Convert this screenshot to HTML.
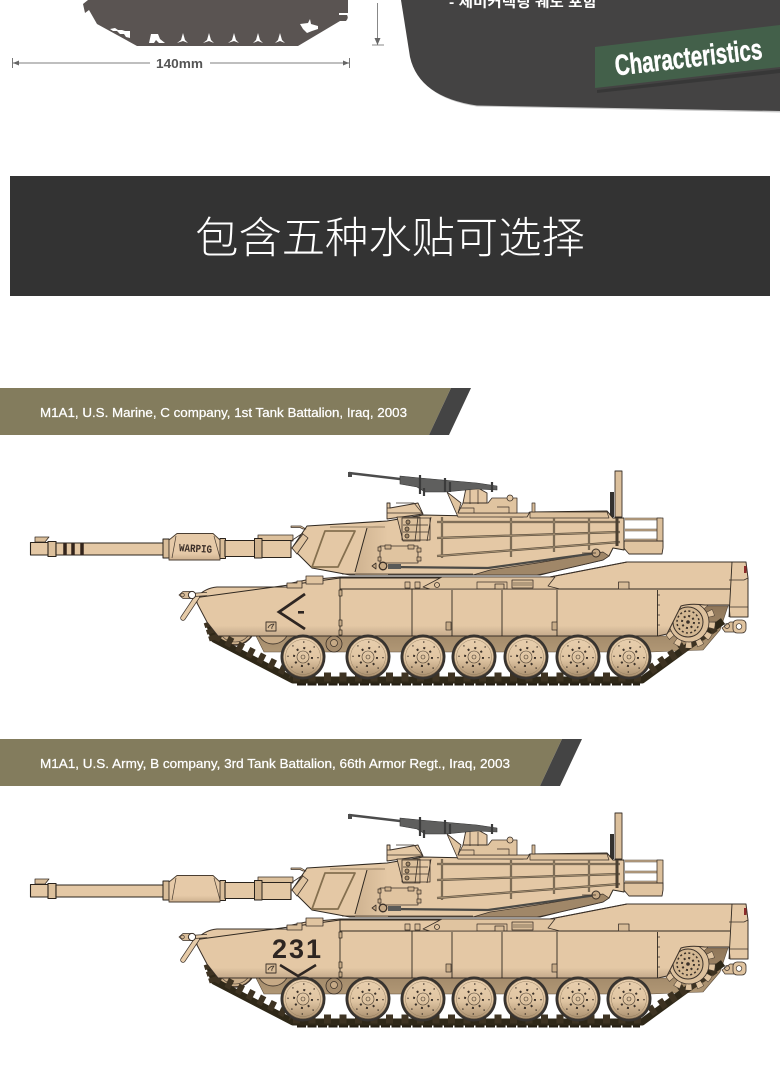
<!DOCTYPE html>
<html><head><meta charset="utf-8"><style>
html,body{margin:0;padding:0;background:#fff}
svg{display:block}
text{font-family:"Liberation Sans","Noto Sans CJK KR",sans-serif}
</style></head><body>
<svg xmlns="http://www.w3.org/2000/svg" width="780" height="1077" viewBox="0 0 780 1077">
<defs>
<linearGradient id="hull" x1="0" y1="0" x2="0" y2="1"><stop offset="0" stop-color="#e4c8a5"/><stop offset=".86" stop-color="#e4c8a5"/><stop offset="1" stop-color="#c4a98b"/></linearGradient>
<linearGradient id="brown" x1="0" y1="0" x2="0" y2="1"><stop offset="0" stop-color="#8f7659"/><stop offset="1" stop-color="#b09775"/></linearGradient>
<linearGradient id="wh" x1="0" y1="0" x2="0" y2="1"><stop offset="0" stop-color="#e8cfae"/><stop offset=".55" stop-color="#e0c5a2"/><stop offset="1" stop-color="#a98f6e"/></linearGradient>
<linearGradient id="shroud" x1="0" y1="0" x2="0" y2="1"><stop offset="0" stop-color="#e6caa8"/><stop offset=".75" stop-color="#e6caa8"/><stop offset="1" stop-color="#cdb08e"/></linearGradient>
<linearGradient id="tur" x1="0" y1="0" x2="1" y2="0"><stop offset="0" stop-color="#c9ad8b"/><stop offset="1" stop-color="#e4c8a5"/></linearGradient>

<g id="wheel">
  <circle r="22.5" fill="#37332f"/>
  <circle r="19.8" fill="url(#wh)" stroke="#5b4c3b" stroke-width=".6"/>
  <circle r="17.5" fill="none" stroke="#8a7558" stroke-width=".4"/>
  <circle r="15" fill="none" stroke="#3a3028" stroke-width="1.3" stroke-dasharray="1.3 10.48"/>
  <circle r="9" fill="none" stroke="#3a3028" stroke-width="2" stroke-dasharray="2 5.07"/>
  <circle r="6" fill="none" stroke="#4b3e30" stroke-width=".6"/>
  <circle r="2" fill="none" stroke="#4b3e30" stroke-width=".6"/>
</g>

<g id="tank" stroke-linejoin="round">
  <!-- gun -->
  <path d="M35 537h14l-4 5h-10z" fill="#d9bd99" stroke="#3a3028" stroke-width=".8"/>
  <rect x="30.5" y="542.5" width="18" height="12.5" fill="#e4c8a5" stroke="#2a231c" stroke-width="1.1"/>
  <rect x="48" y="541.5" width="8" height="15" fill="#dcc09c" stroke="#2a231c" stroke-width="1.1"/>
  <rect x="56" y="543" width="108" height="12" fill="#e4c8a5" stroke="#2a231c" stroke-width="1.1"/>
  <rect x="163" y="539" width="6" height="19" fill="#d9bd99" stroke="#2a231c" stroke-width="1"/>
  <rect x="220" y="538.5" width="5.5" height="20" fill="#d9bd99" stroke="#2a231c" stroke-width="1"/>
  <rect x="225" y="540.5" width="30" height="16" fill="#e4c8a5" stroke="#2a231c" stroke-width="1.1"/>
  <rect x="258" y="535" width="35" height="6" fill="#dcc09c" stroke="#3a3028" stroke-width=".8"/>
  <rect x="261" y="540.5" width="30" height="17" fill="#e4c8a5" stroke="#2a231c" stroke-width="1.1"/>
  <rect x="254.5" y="538.5" width="7.5" height="19.5" fill="#cfb28e" stroke="#2a231c" stroke-width="1"/>
  <path d="M169 540l8-6.500h36l7 6.500v20h-51z" fill="url(#shroud)" stroke="#4a3e32" stroke-width=".9"/>
  <path d="M176 536l-4 22M214 536l6 22" stroke="#4a3e32" stroke-width=".7" fill="none"/>

  <!-- lower brown -->
  <path d="M657 636H666L681 606H728L720 630L703 650L650 652H264L256 636Z" fill="url(#brown)" stroke="#5f4f3c" stroke-width=".6"/>
  <circle cx="273" cy="628" r="16" fill="#c7aa86" stroke="#4a3e32" stroke-width=".9"/>
  <circle cx="235" cy="625" r="20" fill="#c9ad89" stroke="#3a3028" stroke-width="1.5"/>
  <circle cx="235" cy="625" r="17" fill="none" stroke="#4a3e32" stroke-width=".6"/>
  <circle cx="334" cy="644" r="8" fill="#a78d6d" stroke="#3a3028" stroke-width=".8"/>
  <circle cx="334" cy="643" r="3.500" fill="#c7aa86" stroke="#3a3028" stroke-width=".7"/>

  <!-- track -->
  <g fill="none">
    <path d="M209 622L214 639L293 680H642L723 621" stroke="#2f2818" stroke-width="7"/>
    <path d="M293 677H642" stroke="#3e3322" stroke-width="9" stroke-dasharray="7 8.500"/>
    <path d="M297 684.500H640" stroke="#231d12" stroke-width="2" stroke-dasharray="9 1.500"/>
    <path d="M216 635L292 674" stroke="#3e3322" stroke-width="10" stroke-dasharray="6 6"/>
    <path d="M650 670L716 626" stroke="#3e3322" stroke-width="10" stroke-dasharray="6 6"/>
    <path d="M208 622L214 640" stroke="#3e3322" stroke-width="9" stroke-dasharray="5 2"/>
  </g>

  <!-- sprocket -->
  <circle cx="689" cy="622" r="23" fill="none" stroke="#4a3e32" stroke-width="7" stroke-dasharray="6.500 4.540"/>
  <circle cx="689" cy="622" r="23" fill="none" stroke="#e0c4a0" stroke-width="6" stroke-dasharray="5.500 5.540" stroke-dashoffset="-.5"/>
  <circle cx="689" cy="622" r="20" fill="#dcc09c" stroke="#3a3028" stroke-width=".8"/>
  <circle cx="688" cy="622" r="15" fill="#d3b792" stroke="#3a3028" stroke-width="1"/>
  <circle cx="688" cy="622" r="11" fill="none" stroke="#3a3028" stroke-width="1.500" stroke-dasharray="2 2.320"/>
  <circle cx="688" cy="622" r="6" fill="none" stroke="#3a3028" stroke-width="2" stroke-dasharray="2 2.710"/>
  <circle cx="688" cy="622" r="1.800" fill="#3a3028"/>

  <!-- hull -->
  <path d="M197 597Q205 588 217 587H287V584L306 580L340 577L550 577L627 562H746L748 578V617H730L729 605H705Q690 603 681 606L667 634L658 636H218L207 622L197 603Z" fill="url(#hull)" stroke="#3a3028" stroke-width="1"/>
  <path d="M197 597.500L340 578H550" fill="none" stroke="#2f2820" stroke-width="1"/>
  <path d="M340 589H730M340 578V636M412 589V636M452 590V636M502 590V636M557 590V636M657.500 590V636M732 562L729 617" fill="none" stroke="#2f2820" stroke-width=".9"/>
  <path d="M550 577L627 562" fill="none" stroke="#3a3028" stroke-width="1"/>
  <path d="M729 580H744L748 578M730 607H748" stroke="#3a3028" stroke-width=".7" fill="none"/>
  <path d="M657 595h3M657 605h3M657 615h3M657 625h3" stroke="#3a3028" stroke-width=".7"/>
  <rect x="744" y="566" width="2.500" height="7" fill="#8c2a2a"/>
  <rect x="446" y="622" width="5" height="8" fill="#c9ad89" stroke="#3a3028" stroke-width=".7"/>
  <rect x="552" y="622" width="5" height="8" fill="#c9ad89" stroke="#3a3028" stroke-width=".7"/>
  <path d="M339 590h3v6h-3zM339 620h3v6h-3zM339 630h3v5h-3z" fill="#c9ad89" stroke="#2f2820" stroke-width=".7"/>

  <!-- deck detail -->
  <path d="M423 587L442 577H555L548 586L560 589H430Z" fill="#e0c4a0" stroke="#3a3028" stroke-width=".8"/>
  <rect x="512" y="580" width="21" height="8" fill="#d9bd99" stroke="#3a3028" stroke-width=".8"/>
  <path d="M513 583h19M513 585h19" stroke="#3a3028" stroke-width=".6"/>
  <rect x="477" y="582" width="30" height="7" fill="none" stroke="#3a3028" stroke-width=".7"/>
  <rect x="495" y="584" width="9" height="5" fill="#d9bd99" stroke="#3a3028" stroke-width=".8"/>
  <circle cx="437" cy="585" r="2.500" fill="none" stroke="#3a3028" stroke-width=".8"/>
  <rect x="618.500" y="582" width="10.500" height="7" fill="#d9bd99" stroke="#3a3028" stroke-width=".8"/>
  <path d="M405 582h5v6h-5zM415 582h5v6h-5z" fill="#d9bd99" stroke="#3a3028" stroke-width=".7"/>
  <path d="M287 583h10v-2h5v7H287z" fill="#d9bd99" stroke="#3a3028" stroke-width=".8"/>
  <rect x="306" y="576" width="17" height="8" fill="#e0c4a0" stroke="#3a3028" stroke-width=".8"/>

  <!-- front tow -->
  <path d="M183 618L197 597" stroke="#3a3028" stroke-width="5.500" fill="none" stroke-linecap="round"/>
  <path d="M183 618L197 597" stroke="#e6cba8" stroke-width="4" fill="none" stroke-linecap="round"/>
  <path d="M192 595L207 594" stroke="#3a3028" stroke-width="4" fill="none"/>
  <path d="M192 595L207 594" stroke="#e6cba8" stroke-width="2.600" fill="none"/>
  <path d="M179 595l4-3.500h8l2 3.500-2 3.500h-8z" fill="#d9bd99" stroke="#3a3028" stroke-width=".8"/>
  <circle cx="182.500" cy="595" r="1.800" fill="none" stroke="#3a3028" stroke-width=".7"/>
  <circle cx="192" cy="595" r="3.600" fill="#fff" stroke="#3a3028" stroke-width="1"/>

  <!-- rear tow -->
  <path d="M722 628L730 622H735V632H725Z" fill="#d9bd99" stroke="#3a3028" stroke-width=".7"/>
  <circle cx="727" cy="626" r="2.500" fill="none" stroke="#3a3028" stroke-width=".7"/>
  <rect x="733" y="620" width="13" height="13" rx="4" fill="#e0c4a0" stroke="#3a3028" stroke-width=".8"/>
  <circle cx="739" cy="626.500" r="2.800" fill="#fff" stroke="#3a3028" stroke-width=".7"/>

  <!-- bustle rack -->
  <path d="M625 519H661M625 530H660M625 540H660" stroke="#5e5140" stroke-width="2.500" fill="none"/>
  <path d="M625 519H661M625 530H660M625 540H660" stroke="#d9bd99" stroke-width="1.200" fill="none"/>
  <rect x="657" y="518" width="6" height="29" fill="#dcc09c" stroke="#3a3028" stroke-width=".8"/>
  <path d="M624 541H663V548L662 554H629L622 546Z" fill="#e0c4a0" stroke="#3a3028" stroke-width=".9"/>

  <!-- turret -->
  <path d="M615 471h7V517h-7z" fill="#dcc09c" stroke="#3a3028" stroke-width=".9"/>
  <rect x="610" y="492" width="4" height="25" fill="#35322f"/>
  <path d="M292 548L307 526L387 521L423 515L523 517L530 512L607 511L613 518L624 518V550L613 548L609 556L603 560L560 570L540 575H473L390 575L350 575L312 568Z" fill="#e4c8a5" stroke="#2f2820" stroke-width="1"/>
  <path d="M367 528L388 522V575H355Z" fill="url(#tur)" opacity=".8"/>
  <path d="M473 575L490 570L537 563L603 552L609 556L603 560L547 573L537 575Z" fill="#a08768" stroke="#3a3028" stroke-width=".7"/>
  <path d="M342 574H473" stroke="#3a3028" stroke-width=".8"/>
  <path d="M292 548L303 534l5 4L297 554Z" fill="#e0c4a0" stroke="#3a3028" stroke-width=".8"/>
  <path d="M291 546V541L303 533" fill="none" stroke="#3a3028" stroke-width=".8"/>
  <path d="M291 526h10l5 3h-3l-3-1.500h-9z" fill="#e0c4a0" stroke="#3a3028" stroke-width=".7"/>
  <path d="M325 531H355L338 567H312Z" fill="#e4c8a5" stroke="#85704f" stroke-width="1.800"/>
  <path d="M367 528L355 572" stroke="#2f2820" stroke-width="1" fill="none"/>
  <path d="M330 527H385" stroke="#7b674f" stroke-width=".7"/>
  <!-- top hatch -->
  <path d="M387 519V503H390V508L418 503L423 514Z" fill="#e4c8a5" stroke="#3a3028" stroke-width=".9"/>
  <path d="M387 508h3M396 503h18l9 11M387 513h36" fill="none" stroke="#3a3028" stroke-width=".7"/>
  <!-- top right detail -->
  <path d="M530 513V512H607L609 518H530Z" fill="#dcc09c" stroke="#3a3028" stroke-width=".7"/>
  <rect x="532" y="503" width="3" height="9" fill="#d9bd99" stroke="#3a3028" stroke-width=".7"/>
  <!-- stowage -->
  <path d="M397 517H420V541H403Z" fill="#dcc09c" stroke="#3a3028" stroke-width=".8"/>
  <path d="M402 518H430V540H402ZM418 517l-3 24M431 517l-4 24M403 525H428M403 532H428" fill="none" stroke="#3a3028" stroke-width=".8"/>
  <circle cx="408" cy="522" r="2" fill="#a38a6a" stroke="#3a3028" stroke-width=".8"/><circle cx="407" cy="529" r="2" fill="#a38a6a" stroke="#3a3028" stroke-width=".8"/><circle cx="407" cy="536" r="2" fill="#a38a6a" stroke="#3a3028" stroke-width=".8"/>
  <rect x="380" y="546" width="38" height="17" fill="#e0c4a0" stroke="#3a3028" stroke-width=".8"/>
  <path d="M378 547h3v4h-3zM378 557h3v4h-3zM417 548h4v4h-4zM417 557h4v4h-4zM385 545h6v4h-6zM408 545h6v4h-6z" fill="#cfb28e" stroke="#3a3028" stroke-width=".7"/>
  <!-- rails -->
  <g fill="none" stroke="#5e5140" stroke-width="2.200">
    <path d="M437 522L620 522M437 538L620 532M437 556L620 542"/>
    <path d="M442 517V558M511 518V557M554 518V552M589 518V550"/>
  </g>
  <g fill="none" stroke="#b7a07f" stroke-width=".7">
    <path d="M437 522L620 522M437 538L620 532M437 556L620 542"/>
    <path d="M442 517V558M511 518V557M554 518V552M589 518V550"/>
  </g>
  <path d="M617 518V546" stroke-width="3" stroke="#4b4032" fill="none"/>
  <path d="M390 567L488 568L560 558L597 553" stroke="#4b4a46" stroke-width="2.200" fill="none"/>
  <circle cx="596" cy="553" r="4" fill="#c7aa86" stroke="#3a3028" stroke-width="1"/>
  <circle cx="383" cy="566" r="3.800" fill="#c7aa86" stroke="#3a3028" stroke-width="1.300"/>
  <path d="M372 566l4-3v6zM582 553h14" fill="#c7aa86" stroke="#3a3028" stroke-width=".8"/>
  <rect x="388" y="564" width="13" height="5" fill="#5a5a58"/>

  <!-- cupola + MG -->
  <path d="M447 492L461 503L458 513H530V512L527 517H458Z" fill="#e0c4a0" stroke="#3a3028" stroke-width=".8"/>
  <path d="M458 513L463 503H488L492 498H517V513Z" fill="#e0c4a0" stroke="#3a3028" stroke-width=".8"/>
  <path d="M463 503L466 488H478L487 493V503Z" fill="#e4c8a5" stroke="#3a3028" stroke-width=".9"/>
  <circle cx="510" cy="498" r="3" fill="#e4c8a5" stroke="#3a3028" stroke-width=".8"/>
  <path d="M470 488v16M478 490v14M460 508h14v5M497 507h12v6" fill="none" stroke="#3a3028" stroke-width=".7"/>
  <path d="M349 473L400 479" stroke="#4c4c4c" stroke-width="2.500" fill="none"/>
  <rect x="348" y="472" width="4" height="5" fill="#4c4c4c"/>
  <path d="M400 476L420 478L477 483L497 486V490L477 489L445 492H425L417 487L400 484Z" fill="#5f5f5e" stroke="#333" stroke-width=".6"/>
  <path d="M420 475V494M424 488v8M445 478v14M450 482v10M492 482v10" stroke="#3b3b3b" stroke-width="2.200" fill="none"/>

  <!-- wheels -->
  <use href="#wheel" x="303" y="657"/>
  <use href="#wheel" x="368" y="657"/>
  <use href="#wheel" x="423" y="657"/>
  <use href="#wheel" x="474" y="657"/>
  <use href="#wheel" x="526" y="657"/>
  <use href="#wheel" x="578" y="657"/>
  <use href="#wheel" x="629" y="657"/>
  <path d="M266 622h10v9h-10z" fill="#d9bd99" stroke="#3a3028" stroke-width=".9"/>
  <path d="M268 628c1-3 4-4 6-4-1 2-3 3-2 5" fill="none" stroke="#3a3028" stroke-width=".8"/>
</g>
</defs>

<rect width="780" height="1077" fill="#fff"/>

<!-- top silhouette -->
<path d="M88 0L83 4L85 13L89 10L97 24L137 46H298L340 21H346Q349 18 347 15H339V13H348V0Z" fill="#5a5452"/>
<g fill="#fff">
  <path d="M110 29l5-1 3 2 4 0 3 1 5 0v7l-4-1-2-3h-4l-3-3h-4z"/>
  <path d="M149 43l2-9h7l2 5 5 4h-6l-3-3-2 3z"/>
  <path d="M177 43l4-3 2-7 2 7 3 3-5-2z"/>
  <path d="M203 43l4-3 2-7 2 7 3 3-5-2z"/>
  <path d="M228 43l4-3 2-7 2 7 3 3-5-2z"/>
  <path d="M253 43l3-3 2-7 2 7 3 3-5-2z"/>
  <path d="M275 43l3-3 2-7 2 7 3 3-5-2z"/>
  <path d="M300 24l8-1 2-4 1 5 7 2 0 3-6 2-5 2-4-4z"/>
</g>
<path d="M12 63H150M210 63H349" stroke="#999" stroke-width="1.200"/>
<path d="M12.500 58v10M349.500 58v10" stroke="#777" stroke-width="1"/>
<path d="M13 63l6-2.500v5zM349 63l-6-2.500v5z" fill="#666"/>
<text x="179.500" y="68" text-anchor="middle" font-size="13" font-weight="700" fill="#555" textLength="47" lengthAdjust="spacingAndGlyphs">140mm</text>
<path d="M377.500 3V45" stroke="#888" stroke-width="1"/>
<path d="M372 45H384" stroke="#888" stroke-width="1"/>
<path d="M377.500 45l-3-7h6z" fill="#666"/>

<!-- dark panel -->
<path d="M401 0L411 57Q420 98 477 106.500L780 112.500V0Z" fill="#c9c9c9"/>
<path d="M401 0L410 57Q419 97 477 105.500L780 111V0Z" fill="#444343"/>
<text x="449" y="7" font-size="14" font-weight="700" fill="#fff" textLength="148" lengthAdjust="spacingAndGlyphs">- 체미커렉팅 궤도 포함</text>
<path d="M597 90L780 69V73L597 93Z" fill="#343434" opacity=".8"/>
<path d="M595 47L780 25V67L595 88Z" fill="#43604a"/>
<g transform="translate(616 75.500) rotate(-6.500)"><text x="0" y="0" font-size="29" font-weight="700" fill="#fff" stroke="#fff" stroke-width=".5" textLength="148" lengthAdjust="spacingAndGlyphs">Characteristics</text></g>

<!-- banner -->
<rect x="10" y="176" width="760" height="120" fill="#333"/>
<text x="390" y="253" text-anchor="middle" font-size="43.300" font-weight="300" fill="#fff" style="font-family:'Noto Sans CJK SC',sans-serif">包含五种水贴可选择</text>

<!-- band 1 -->
<path d="M0 388H451L429 435H0Z" fill="#837c5d"/>
<path d="M451 388H471L449 435H429Z" fill="#444"/>
<text x="40" y="417" font-size="13" font-weight="400" fill="#fff" stroke="#fff" stroke-width=".25" textLength="367" lengthAdjust="spacingAndGlyphs">M1A1, U.S. Marine, C company, 1st Tank Battalion, Iraq, 2003</text>

<!-- band 2 -->
<path d="M0 739H562L540 786H0Z" fill="#837c5d"/>
<path d="M562 739H582L560 786H540Z" fill="#444"/>
<text x="40" y="768" font-size="13" font-weight="400" fill="#fff" stroke="#fff" stroke-width=".25" textLength="470" lengthAdjust="spacingAndGlyphs">M1A1, U.S. Army, B company, 3rd Tank Battalion, 66th Armor Regt., Iraq, 2003</text>

<!-- tank 1 -->
<use href="#tank"/>
<path d="M65 543v12M73 543v12M82 543v12" stroke="#33241c" stroke-width="3.500"/>
<text x="179" y="552" font-size="11" font-weight="700" fill="#3a2e28" textLength="33" lengthAdjust="spacingAndGlyphs" transform="rotate(3 195 550)" style="font-family:'Liberation Mono',monospace">WARPIG</text>
<path d="M305 594L279 612L305 629" fill="none" stroke="#2e2622" stroke-width="2.800"/>
<rect x="298" y="611" width="6" height="2.600" fill="#2e2622"/>

<!-- tank 2 -->
<use href="#tank" y="342"/>
<text x="272" y="958" font-size="27" font-weight="700" fill="#2e2622" letter-spacing="2" style="font-family:'Liberation Sans',sans-serif">231</text>
<path d="M280 965L298 976L316 965" fill="none" stroke="#2e2622" stroke-width="2.500"/>
</svg>
</body></html>
